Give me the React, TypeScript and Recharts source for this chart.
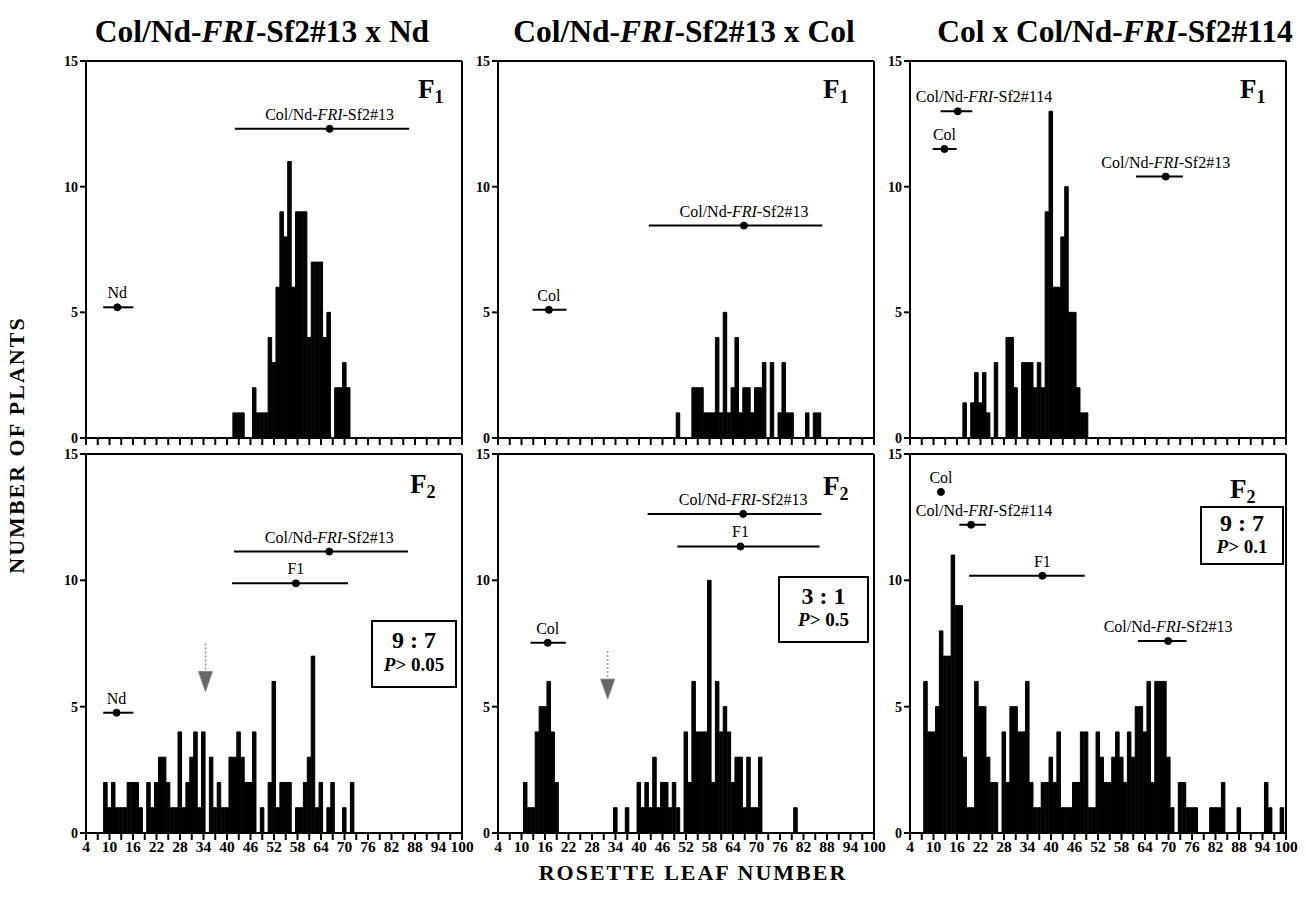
import React from 'react';
import { ComposedChart, Bar, XAxis, YAxis, ReferenceLine, ReferenceDot } from 'recharts';

const SERIF = '"Liberation Serif", "DejaVu Serif", "Times New Roman", serif';

// x axis: rosette leaf number
const leafTicks = [4, 7, 10, 13, 16, 19, 22, 25, 28, 31, 34, 37, 40, 43, 46, 49, 52, 55, 58, 61, 64, 67, 70, 73, 76, 79, 82, 85, 88, 91, 94, 97, 100];
const leafLabels = [4, 10, 16, 22, 28, 34, 40, 46, 52, 58, 64, 70, 76, 82, 88, 94, 100];
const countTicks = [0, 5, 10, 15];

// histograms: first leaf number, then number of plants per leaf number
const f1NdStart = 42;
const f1NdCounts = [1, 1, 1, 0, 0, 2, 1, 1, 1, 4, 3, 6, 9, 8, 11, 6, 9, 9, 9, 4, 7, 7, 7, 4, 5, 0, 2, 2, 3, 2];

const f1ColStart = 50;
const f1ColCounts = [1, 0, 0, 0, 2, 2, 2, 1, 1, 1, 4, 1, 5, 1, 2, 4, 1, 2, 2, 1, 2, 2, 3, 0, 3, 0, 1, 3, 1, 1, 0, 0, 0, 1, 0, 1, 1];

const f1S114Start = 18;
const f1S114Counts = [1.4, 0, 1.4, 2.6, 1.4, 2.6, 1, 0, 3, 0, 0, 4, 4, 2, 0, 3, 3, 3, 2, 3, 2, 9, 13, 6, 6, 8, 10, 5, 5, 2, 1, 1];

const f2NdStart = 9;
const f2NdCounts = [
  2, 1, 2, 1, 1, 1, 2, 2, 2, 1,
  0, 2, 1, 2, 3, 3, 2, 1, 1, 4,
  1, 2, 3, 4, 1, 4, 0, 3, 1, 2,
  1, 1, 3, 3, 4, 3, 2, 2, 4, 0,
  1, 0, 2, 6, 1, 2, 2, 2, 0, 1,
  1, 2, 3, 7, 1, 2, 0, 1, 2, 0,
  0, 1, 0, 2,
];

const f2ColStart = 11;
const f2ColCounts = [
  2, 1, 1, 4, 5, 5, 6, 4, 2,
  0, 0, 0, 0, 0, 0, 0, 0, 0, 0, 0, 0, 0, 0,
  1, 0, 0, 1, 0, 0,
  2, 1, 2, 1, 3, 1, 2, 2, 1, 2, 1, 0,
  4, 2, 6, 4, 4, 4, 10, 2, 6, 4, 5, 4, 2, 3, 3, 1, 3, 1, 1, 3,
  0, 0, 0, 0, 0, 0, 0, 0,
  1,
];

const f2S114Start = 8;
const f2S114Counts = [
  6, 4, 4, 5, 8, 7, 7, 11, 9, 9,
  3, 1, 1, 6, 5, 5, 3, 2, 2, 0,
  4, 2, 5, 5, 4, 4, 6, 2, 1, 1,
  2, 2, 3, 2, 4, 1, 1, 1, 2, 2,
  4, 4, 1, 1, 4, 3, 2, 2, 3, 4,
  3, 2, 4, 3, 5, 5, 4, 6, 2, 6,
  6, 6, 3, 1, 0, 2, 2, 1, 1, 1,
  0, 0, 0, 1, 1, 1, 2, 0, 0, 0,
  1, 0, 0, 0, 0, 0, 0, 2, 1, 0, 0, 1,
];

// parental / F1 means with ranges: row height (plants), mean, low, high leaf number
const f1NdMarkers = [
  { name: 'Nd', y: 5.2, mean: 12.0, lo: 8.4, hi: 16.1 },
  { name: 'Col/Nd-FRI-Sf2#13', y: 12.3, mean: 66.2, lo: 42.0, hi: 86.5 },
];
const f1ColMarkers = [
  { name: 'Col', y: 5.1, mean: 17.0, lo: 12.8, hi: 21.5 },
  { name: 'Col/Nd-FRI-Sf2#13', y: 8.45, mean: 66.8, lo: 42.5, hi: 86.8 },
];
const f1S114Markers = [
  { name: 'Col/Nd-FRI-Sf2#114', y: 13.0, mean: 16.2, lo: 11.8, hi: 19.9 },
  { name: 'Col', y: 11.5, mean: 12.8, lo: 9.8, hi: 15.9 },
  { name: 'Col/Nd-FRI-Sf2#13', y: 10.4, mean: 69.3, lo: 61.7, hi: 73.7 },
];
const f2NdMarkers = [
  { name: 'Nd', y: 4.76, mean: 11.8, lo: 8.4, hi: 16.1 },
  { name: 'F1', y: 9.88, mean: 57.6, lo: 41.3, hi: 70.9 },
  { name: 'Col/Nd-FRI-Sf2#13', y: 11.14, mean: 66.1, lo: 41.8, hi: 86.2 },
];
const f2ColMarkers = [
  { name: 'Col', y: 7.53, mean: 16.7, lo: 12.3, hi: 21.3 },
  { name: 'F1', y: 11.34, mean: 65.9, lo: 49.8, hi: 86.1 },
  { name: 'Col/Nd-FRI-Sf2#13', y: 12.63, mean: 66.6, lo: 42.2, hi: 86.6 },
];
const f2S114Markers = [
  { name: 'Col', y: 13.5, mean: 11.9, lo: 11.9, hi: 11.9 },
  { name: 'Col/Nd-FRI-Sf2#114', y: 12.2, mean: 19.6, lo: 16.6, hi: 23.4 },
  { name: 'F1', y: 10.18, mean: 37.8, lo: 19.1, hi: 48.6 },
  { name: 'Col/Nd-FRI-Sf2#13', y: 7.6, mean: 69.9, lo: 62.2, hi: 74.6 },
];

// threshold arrows in the F2 panels
const f2NdArrow = { leaf: 34.5, top: 7.5, tip: 5.6 };
const f2ColArrow = { leaf: 32, top: 7.2, tip: 5.3 };

const Y_W = 44;
const M_TOP = 10;
const M_RIGHT = 12;
const PLOT_W = 376;
const COLS = [86, 498, 910];
const ROWS = [{ y: 61, h: 377 }, { y: 454, h: 379 }];

function nameSpans(name: string) {
  const parts = name.split('FRI');
  if (parts.length < 2) return <tspan>{name}</tspan>;
  return (
    <>
      <tspan>{parts[0]}</tspan>
      <tspan fontStyle="italic">FRI</tspan>
      <tspan>{parts[1]}</tspan>
    </>
  );
}

function MarkerLabel(props: any) {
  const { viewBox, name, minX } = props;
  if (!viewBox) return null;
  const cx = viewBox.x + viewBox.width / 2;
  const cy = viewBox.y + viewBox.height / 2;
  const w = name.length * 8;
  let x = cx;
  if (x - w / 2 < minX + 2) x = minX + 2 + w / 2;
  return (
    <text x={x} y={cy - 9} textAnchor="middle" fontFamily={SERIF} fontSize={16} fill="#000">
      {nameSpans(name)}
    </text>
  );
}

function ArrowHead(props: any) {
  const { cx, cy } = props;
  return <polygon points={`${cx - 7},${cy - 20} ${cx + 7},${cy - 20} ${cx},${cy}`} fill="#666" stroke="#888" strokeWidth={1} />;
}

function Panel({ col, row, start, counts, markers, arrow }: any) {
  const x0 = COLS[col];
  const { y: y0, h: plotH } = ROWS[row];
  const labelled = row === 1;
  const axisH = labelled ? 30 : 12;
  const data = counts.map((count: number, i: number) => ({ leaf: start + i, count }));
  const unit = PLOT_W / 96;
  return (
    <div style={{ position: 'absolute', left: x0 - Y_W, top: y0 - M_TOP }}>
      <ComposedChart
        width={Y_W + PLOT_W + M_RIGHT}
        height={M_TOP + plotH + axisH}
        data={data}
        margin={{ top: M_TOP, right: M_RIGHT, bottom: 0, left: 0 }}
        barCategoryGap={0}
        barGap={0}
      >
        <XAxis
          type="number"
          dataKey="leaf"
          domain={[4, 100]}
          ticks={leafTicks}
          interval={0}
          allowDataOverflow
          height={axisH}
          tickSize={7}
          tickMargin={1}
          axisLine={{ stroke: '#000', strokeWidth: 2 }}
          tickLine={{ stroke: '#000', strokeWidth: 2 }}
          tick={{ fill: '#000', fontSize: 15.5, fontWeight: 700, fontFamily: SERIF }}
          tickFormatter={(v: number) => (labelled && leafLabels.includes(v) ? String(v) : '')}
        />
        <YAxis
          type="number"
          domain={[0, 15]}
          ticks={countTicks}
          interval={0}
          allowDataOverflow
          width={Y_W}
          tickSize={6}
          tickMargin={2}
          axisLine={{ stroke: '#000', strokeWidth: 2 }}
          tickLine={{ stroke: '#000', strokeWidth: 2 }}
          tick={{ fill: '#000', fontSize: 14, fontWeight: 700, fontFamily: SERIF }}
        />
        <Bar dataKey="count" fill="#000" stroke="#000" strokeWidth={1} barSize={unit} isAnimationActive={false} />
        <ReferenceLine y={15} stroke="#000" strokeWidth={2} />
        <ReferenceLine x={100} stroke="#000" strokeWidth={2} />
        {markers.map((m: any) => (
          <ReferenceLine
            key={'seg-' + m.name}
            segment={[{ x: m.lo, y: m.y }, { x: m.hi, y: m.y }]}
            stroke="#000"
            strokeWidth={2}
          />
        ))}
        {markers.map((m: any) => (
          <ReferenceDot
            key={'dot-' + m.name}
            x={m.mean}
            y={m.y}
            r={3.5}
            fill="#000"
            stroke="#000"
            label={(p: any) => <MarkerLabel {...p} name={m.name} minX={Y_W} />}
          />
        ))}
        {arrow && (
          <ReferenceLine
            segment={[{ x: arrow.leaf, y: arrow.top }, { x: arrow.leaf, y: arrow.tip + 0.8 }]}
            stroke="#999"
            strokeWidth={1.5}
            strokeDasharray="2 2"
          />
        )}
        {arrow && <ReferenceDot x={arrow.leaf} y={arrow.tip} r={6} shape={ArrowHead} />}
      </ComposedChart>
    </div>
  );
}

function GenLabel({ x, y, n }: { x: number; y: number; n: string }) {
  return (
    <text x={x} y={y} fontFamily={SERIF} fontWeight={700} fontSize={27} fill="#000">
      F<tspan fontSize={18} dy={5}>{n}</tspan>
    </text>
  );
}

function RatioBox({ x, y, w, h, ratio, p, ry, py }: any) {
  return (
    <g>
      <rect x={x} y={y} width={w} height={h} fill="none" stroke="#000" strokeWidth={2} />
      <text x={x + w / 2} y={ry} textAnchor="middle" fontFamily={SERIF} fontWeight={700} fontSize={24} fill="#000">
        {ratio}
      </text>
      <text x={x + w / 2} y={py} textAnchor="middle" fontFamily={SERIF} fontWeight={700} fontSize={19} fill="#000">
        <tspan fontStyle="italic">P</tspan>
        <tspan>{p}</tspan>
      </text>
    </g>
  );
}

function Title({ cx, text, tail }: { cx: number; text: string; tail: string }) {
  return (
    <text x={cx} y={42} textAnchor="middle" fontFamily={SERIF} fontWeight={700} fontSize={31.5} fill="#000">
      {nameSpans(text)}
      <tspan>{tail}</tspan>
    </text>
  );
}

export default function App() {
  return (
    <div style={{ position: 'absolute', left: 0, top: 0, width: 1307, height: 907, background: '#fff' }}>
      <Panel col={0} row={0} start={f1NdStart} counts={f1NdCounts} markers={f1NdMarkers} />
      <Panel col={1} row={0} start={f1ColStart} counts={f1ColCounts} markers={f1ColMarkers} />
      <Panel col={2} row={0} start={f1S114Start} counts={f1S114Counts} markers={f1S114Markers} />
      <Panel col={0} row={1} start={f2NdStart} counts={f2NdCounts} markers={f2NdMarkers} arrow={f2NdArrow} />
      <Panel col={1} row={1} start={f2ColStart} counts={f2ColCounts} markers={f2ColMarkers} arrow={f2ColArrow} />
      <Panel col={2} row={1} start={f2S114Start} counts={f2S114Counts} markers={f2S114Markers} />
      <svg width={1307} height={907} style={{ position: 'absolute', left: 0, top: 0, pointerEvents: 'none' }}>
        <Title cx={262} text="Col/Nd-FRI-Sf2#13" tail=" x Nd" />
        <Title cx={684} text="Col/Nd-FRI-Sf2#13" tail=" x Col" />
        <Title cx={1115} text="Col x Col/Nd-FRI-Sf2#114" tail="" />
        <GenLabel x={418} y={98} n="1" />
        <GenLabel x={823} y={98} n="1" />
        <GenLabel x={1240} y={98} n="1" />
        <GenLabel x={410} y={493} n="2" />
        <GenLabel x={823} y={495} n="2" />
        <GenLabel x={1230} y={498} n="2" />
        <RatioBox x={372} y={621} w={84} h={66} ratio="9 : 7" p="> 0.05" ry={648} py={671} />
        <RatioBox x={779} y={577} w={89} h={65} ratio="3 : 1" p="> 0.5" ry={604} py={626} />
        <RatioBox x={1201} y={507} w={82} h={57} ratio="9 : 7" p="> 0.1" ry={531} py={553} />
        <text
          transform="translate(24 445) rotate(-90)"
          textAnchor="middle"
          fontFamily={SERIF}
          fontWeight={700}
          fontSize={22}
          letterSpacing={2}
          fill="#000"
        >
          NUMBER OF PLANTS
        </text>
        <text x={693} y={880} textAnchor="middle" fontFamily={SERIF} fontWeight={700} fontSize={22} letterSpacing={2} fill="#000">
          ROSETTE LEAF NUMBER
        </text>
      </svg>
    </div>
  );
}
